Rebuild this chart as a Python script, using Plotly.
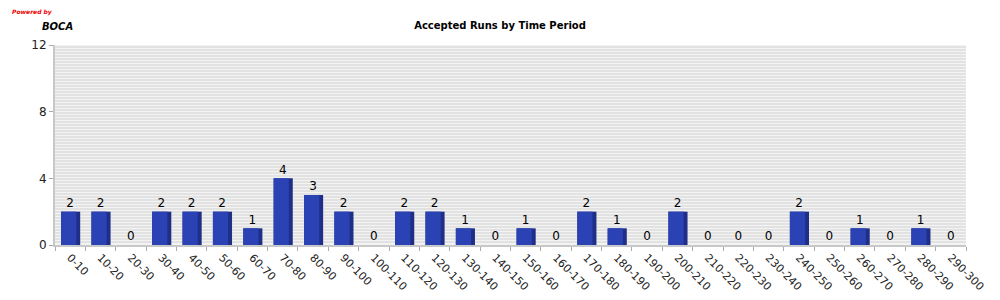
import plotly.graph_objects as go

categories = ["0-10", "10-20", "20-30", "30-40", "40-50", "50-60", "60-70", "70-80", "80-90", "90-100",
              "100-110", "110-120", "120-130", "130-140", "140-150", "150-160", "160-170", "170-180",
              "180-190", "190-200", "200-210", "210-220", "220-230", "230-240", "240-250", "250-260",
              "260-270", "270-280", "280-290", "290-300"]
runs = [2, 2, 0, 2, 2, 2, 1, 4, 3, 2,
        0, 2, 2, 1, 0, 1, 0, 2, 1, 0,
        2, 0, 0, 0, 2, 0, 1, 0, 1, 0]
y_ticks = [0, 4, 8, 12]

font = "DejaVu Sans"
fig = go.Figure()
# dark side of the 3D bar
fig.add_trace(go.Bar(x=categories, y=runs, width=0.63, offset=-0.3,
                     marker=dict(color="#1f2f88", line=dict(width=0)), hoverinfo="skip"))
# front face
fig.add_trace(go.Bar(x=categories, y=runs, width=0.5, offset=-0.3,
                     marker=dict(color="#2b42b4", line=dict(width=0))))
# value labels (slightly above the bar tops)
fig.add_trace(go.Scatter(x=categories, y=[v + 0.1 for v in runs], mode="text",
                         text=[str(v) for v in runs],
                         textposition="top center", cliponaxis=False,
                         textfont=dict(family=font, size=12, color="#000000")))

fig.update_layout(
    width=1000, height=300, barmode="overlay", showlegend=False,
    margin=dict(l=55, r=34, t=45, b=55, autoexpand=False),
    paper_bgcolor="white", plot_bgcolor="#f3f3f3",
    font=dict(family=font, size=11, color="#222222"),
    title=dict(text="<b>Accepted Runs by Time Period</b>", x=0.5, xref="container", xanchor="center",
               y=1 - 25 / 300, yref="container", yanchor="middle",
               font=dict(family=font, size=10, color="#000000")),
    xaxis=dict(type="category", tickangle=45, tickson="boundaries", ticks="outside", ticklen=4,
               tickcolor="#aaaaaa", showline=True, linecolor="#c8c8c8", linewidth=2,
               showgrid=False, automargin=False, tickfont=dict(family=font, size=11, color="#222222"),
               range=[-0.5, len(categories) - 0.5]),
    yaxis=dict(range=[0, 12], tickvals=y_ticks, ticks="outside", ticklen=4, tickcolor="#aaaaaa",
               showline=True, linecolor="#c8c8c8", linewidth=2, zeroline=False, automargin=False,
               showgrid=False, tickfont=dict(family=font, size=12, color="#222222"),
               minor=dict(dtick=0.18, showgrid=True, gridcolor="#e2e2e2", gridwidth=1.5, ticks="")),
    annotations=[
        dict(text="<i><b>Powered by</b></i>", x=10, y=12, xref="paper", yref="paper", showarrow=False,
             font=dict(family=font, size=6, color="#ee0000"), xanchor="left", yanchor="middle"),
        dict(text="<i><b>BOCA</b></i>", x=40, y=27, xref="paper", yref="paper", showarrow=False,
             font=dict(family=font, size=10, color="#000000"), xanchor="left", yanchor="middle"),
    ],
)
# convert pixel positions of annotations into paper coordinates
pw, ph = 1000 - 55 - 34, 300 - 45 - 55
for a in fig.layout.annotations:
    a.x = (a.x - 55) / pw
    a.y = (300 - 55 - a.y) / ph

fig.write_html("out.html")
